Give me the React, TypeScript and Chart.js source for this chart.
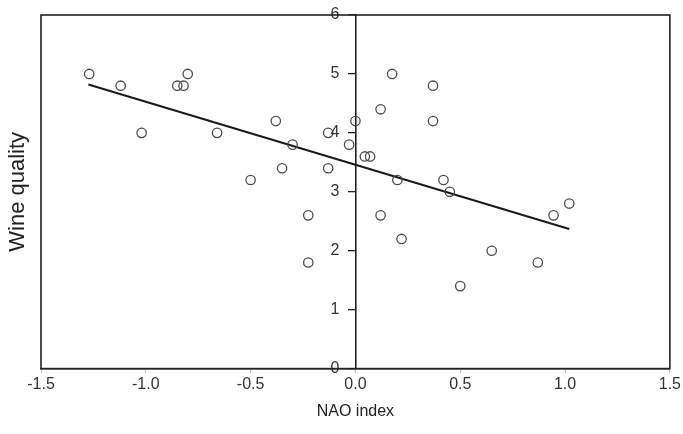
import React, { useEffect, useRef } from "react";
import { Chart, registerables } from "chart.js";

Chart.register(...registerables);

const naoIndex = [
  -1.27, -1.12, -1.02, -0.85, -0.82, -0.8, -0.66, -0.5, -0.38, -0.35, -0.3,
  -0.13, -0.13, -0.225, -0.225, -0.03, 0.0, 0.045, 0.07, 0.12, 0.12, 0.175,
  0.2, 0.22, 0.37, 0.37, 0.42, 0.45, 0.5, 0.65, 0.87, 0.945, 1.02,
];
const wineQuality = [
  5.0, 4.8, 4.0, 4.8, 4.8, 5.0, 4.0, 3.2, 4.2, 3.4, 3.8,
  4.0, 3.4, 2.6, 1.8, 3.8, 4.2, 3.6, 3.6, 4.4, 2.6, 5.0,
  3.2, 2.2, 4.8, 4.2, 3.2, 3.0, 1.4, 2.0, 1.8, 2.6, 2.8,
];
const trendX = [-1.274, 1.02];
const trendY = [4.82, 2.37];
const xTicks = [-1.5, -1.0, -0.5, 0, 0.5, 1.0, 1.5];
const yTicks = [0, 1, 2, 3, 4, 5, 6];
const xTitle = "NAO index";
const yTitle = "Wine quality";

const FONT = "'Liberation Sans', Arial, sans-serif";

export default function App() {
  const ref = useRef<HTMLCanvasElement | null>(null);

  useEffect(() => {
    document.body.style.margin = "0";
    const canvas = ref.current;
    if (!canvas) return;

    const framePlugin = {
      id: "frame",
      afterDraw(chart: any) {
        const { ctx, chartArea: a } = chart;
        const xs = chart.scales.x;
        const ys = chart.scales.y;
        ctx.save();
        // y tick labels, placed left of the y axis (which sits at x = 0)
        const x0 = xs.getPixelForValue(0);
        ctx.fillStyle = "#333";
        ctx.font = `16px ${FONT}`;
        ctx.textAlign = "right";
        ctx.textBaseline = "middle";
        ys.ticks.forEach((t: any) => {
          ctx.fillText(String(t.value), x0 - 16, ys.getPixelForValue(t.value));
        });
        // frame
        ctx.strokeStyle = "#222";
        ctx.lineWidth = 1.6;
        ctx.strokeRect(a.left, a.top, a.right - a.left, a.bottom - a.top);
        // y title
        ctx.translate(18, (a.top + a.bottom) / 2);
        ctx.rotate(-Math.PI / 2);
        ctx.fillStyle = "#222";
        ctx.font = `22px ${FONT}`;
        ctx.textAlign = "center";
        ctx.textBaseline = "middle";
        ctx.fillText(yTitle, 0, 0);
        ctx.restore();
      },
    };

    const chart = new Chart(canvas, {
      type: "scatter",
      data: {
        datasets: [
          {
            type: "scatter",
            data: naoIndex.map((x, i) => ({ x, y: wineQuality[i] })),
            pointStyle: "circle",
            pointRadius: 4.7,
            pointBorderWidth: 1.3,
            borderColor: "#4a4a4a",
            backgroundColor: "rgba(0,0,0,0)",
            order: 1,
          },
          {
            type: "line",
            data: trendX.map((x, i) => ({ x, y: trendY[i] })),
            borderColor: "#1a1a1a",
            borderWidth: 2,
            pointRadius: 0,
            fill: false,
            order: 2,
          } as any,
        ],
      },
      plugins: [framePlugin],
      options: {
        animation: false,
        responsive: false,
        devicePixelRatio: 1,
        layout: { padding: { left: 41, right: 13, top: 15, bottom: 13 } },
        plugins: { legend: { display: false }, tooltip: { enabled: false } },
        scales: {
          x: {
            type: "linear",
            min: -1.5,
            max: 1.5,
            position: "bottom",
            afterBuildTicks: (s: any) => {
              s.ticks = xTicks.map((v) => ({ value: v }));
            },
            ticks: {
              callback: (v: any) => Number(v).toFixed(1),
              font: { family: FONT, size: 16 },
              color: "#333",
              padding: 2,
              maxRotation: 0,
            },
            grid: {
              drawOnChartArea: false,
              drawTicks: true,
              tickLength: 4,
              color: "#bbb",
            },
            border: { display: true, color: "#222", width: 1.6 },
            title: {
              display: true,
              text: xTitle,
              font: { family: FONT, size: 16 },
              color: "#222",
              padding: { top: 6, bottom: 0 },
            },
          },
          y: {
            type: "linear",
            min: 0,
            max: 6,
            position: { x: 0 } as any,
            afterBuildTicks: (s: any) => {
              s.ticks = yTicks.map((v) => ({ value: v }));
            },
            ticks: { display: false },
            grid: {
              drawOnChartArea: false,
              drawTicks: true,
              tickLength: 7,
              color: "#222",
              lineWidth: 1.3,
            },
            border: { display: true, color: "#222", width: 1.6 },
          } as any,
        },
      },
    });
    return () => chart.destroy();
  }, []);

  return (
    <div style={{ width: 683, height: 434 }}>
      <canvas ref={ref} width={683} height={434} />
    </div>
  );
}
